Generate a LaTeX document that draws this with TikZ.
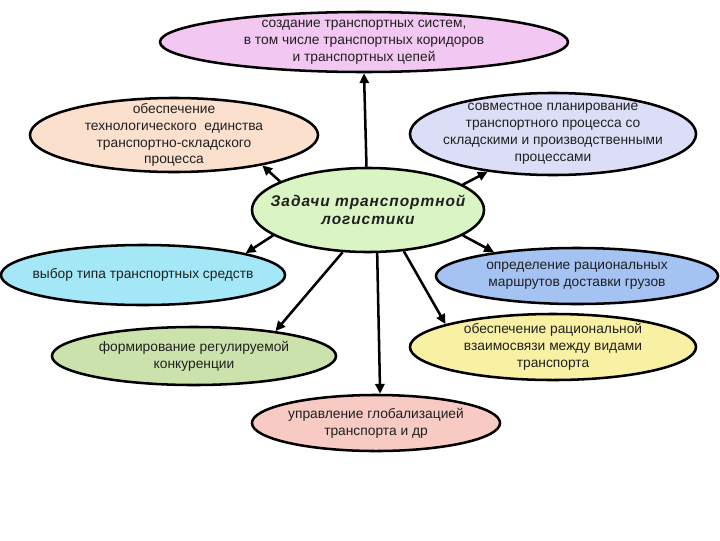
\documentclass[tikz,border=0pt]{standalone}
\usepackage{fontspec}
\setmainfont{Liberation Sans}
\newfontfamily\titlefont[LetterSpace=6]{Liberation Sans}
\usetikzlibrary{shapes.geometric,arrows.meta}
\definecolor{cTop}{HTML}{F2C8F2}
\definecolor{cUL}{HTML}{FCE0CE}
\definecolor{cUR}{HTML}{DCDEF8}
\definecolor{cC}{HTML}{DAF4C4}
\definecolor{cLM}{HTML}{A4E8F8}
\definecolor{cRM}{HTML}{A4C2F2}
\definecolor{cBL}{HTML}{CCE2AC}
\definecolor{cBR}{HTML}{F8F0A2}
\definecolor{cBot}{HTML}{F8CAC4}
\definecolor{txt}{HTML}{202020}
\tikzset{
  el/.style={ellipse, draw=black, line width=1.8pt, inner sep=-40pt, align=center,
    text=txt, font=\fontsize{9.8}{12}\selectfont},
  arr/.style={line width=1.8pt, -{Triangle[length=7pt,width=6.5pt]}}
}
\begin{document}
\begin{tikzpicture}[x=0.025cm,y=-0.025cm]
\fill[white] (0,0) rectangle (720,540);
\useasboundingbox (0,0) rectangle (720,540);

\node[el, fill=cTop, minimum width=10.2cm, minimum height=1.5cm] (top) at (364,42)
  {создание транспортных систем,\\в том числе транспортных коридоров\\и транспортных цепей};
\node[el, fill=cUL, minimum width=7.2cm, minimum height=1.85cm] (ul) at (174,135)
  {обеспечение\\технологического\ \ единства\\транспортно-складского\\процесса};
\node[el, fill=cUR, minimum width=7.15cm, minimum height=2.05cm] (ur) at (553,134)
  {совместное планирование\\транспортного процесса со\\складскими и производственными\\процессами};
\node[el, fill=cC, minimum width=5.8cm, minimum height=2.1cm,
  font=\titlefont\fontsize{11}{13}\selectfont\bfseries\itshape] (c) at (368,210)
  {Задачи транспортной\\логистики};
\node[el, fill=cLM, minimum width=7.1cm, minimum height=1.5cm] (lm) at (143,275)
  {выбор типа транспортных средств};
\node[el, fill=cRM, minimum width=7.05cm, minimum height=1.4cm] (rm) at (577,276)
  {определение рациональных\\маршрутов доставки грузов};
\node[el, fill=cBL, minimum width=7.1cm, minimum height=1.45cm] (bl) at (194,356)
  {формирование регулируемой\\конкуренции};
\node[el, fill=cBR, minimum width=7.15cm, minimum height=1.65cm] (br) at (553,347)
  {обеспечение рациональной\\взаимосвязи между видами\\транспорта};
\node[el, fill=cBot, minimum width=6.2cm, minimum height=1.4cm] (bot) at (376,423)
  {управление глобализацией\\транспорта и др};

\draw[arr] (c.92) -- (top.270);
\draw[arr] (c.162.4) -- (ul.-19.2);
\draw[arr] (c.15.9) -- (ur.210.5);
\draw[arr] (c.195.9) -- (lm.12.4);
\draw[arr] (c.-15.2) -- (rm.164.6);
\draw[arr] (c.239.8) -- (bl.17.4);
\draw[arr] (c.-78) -- (bot.82);
\draw[arr] (c.-49.3) -- (br.168.7);
\end{tikzpicture}
\end{document}
